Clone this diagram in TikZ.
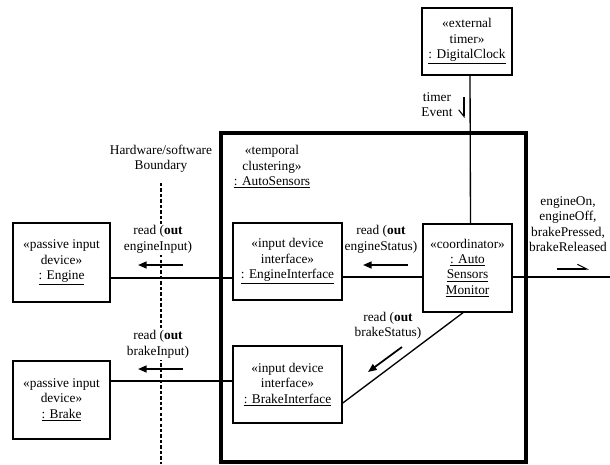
\documentclass[tikz,border=0pt]{standalone}
\usepackage{fontspec}
\setmainfont{Liberation Serif}
\usetikzlibrary{arrows.meta}
\begin{document}
\begin{tikzpicture}[x=0.75pt,y=-0.75pt,
  every node/.style={font=\fontsize{10pt}{11.6pt}\selectfont},
  obj/.style={draw,line width=1.1pt,align=center,inner sep=1pt},
  cluster/.style={draw,line width=2.3pt,inner sep=0pt},
  link/.style={line width=1pt},
  lbl/.style={align=center,inner sep=1pt},
  msg/.style={line width=1.3pt,-{Triangle[length=6.5pt,width=5.2pt]}},
  evt/.style={line width=0.8pt},
  boundary/.style={line width=1pt,dash pattern=on 2.5pt off 1.6pt}]
\useasboundingbox (0,0) rectangle (610,464);

% composite object and its boundary
\node[cluster,minimum width=228.75pt,minimum height=246.75pt] (sensors) at (373.5,297.5) {};
\node[lbl] (sensorslbl) at (272,167) {«temporal\\clustering»\\\underline{: AutoSensors}};

% hardware/software boundary
\coordinate (bndtop) at (161,183);
\coordinate (bndbot) at (161,464);
\draw[boundary] (bndtop) -- (bndbot);
\node[lbl] (bndlbl) at (161,158.5) {Hardware/software\\Boundary};

% objects
\node[obj,minimum width=67.5pt,minimum height=50.25pt] (clock) at (467,41.5)
  {«external\\timer»\\\underline{: DigitalClock}};
\node[obj,minimum width=72.75pt,minimum height=59.25pt] (engine) at (61.5,262.5)
  {«passive input\\device»\\\underline{: Engine}};
\node[obj,minimum width=81.75pt,minimum height=57.75pt] (eif) at (287.5,261.5)
  {«input device\\interface»\\\underline{: EngineInterface}};
\node[obj,minimum width=66.75pt,minimum height=66pt] (coord) at (467.5,268)
  {«coordinator»\\\underline{: Auto}\\\underline{Sensors}\\\underline{Monitor}};
\node[obj,minimum width=72.75pt,minimum height=58.5pt] (brake) at (61.5,400)
  {«passive input\\device»\\\underline{: Brake}};
\node[obj,minimum width=81.75pt,minimum height=57.75pt] (bif) at (287.5,384.5)
  {«input device\\interface»\\\underline{: BrakeInterface}};

% links
\coordinate (out) at (610,277);
\draw[link] ([xshift=2.25pt]clock.south) -- ([xshift=2.25pt]coord.north);
\draw[link] ([yshift=-11.6pt]engine.east) -- ([yshift=-11.6pt]engine.east -| eif.west);
\draw[link] ([yshift=-6.75pt]coord.west) -- ([yshift=-6.75pt]coord.west -| eif.east);
\draw[link] ([yshift=-6.75pt]coord.east) -- (out);
\draw[link] ([yshift=14.25pt]brake.east) -- ([yshift=14.25pt]brake.east -| bif.west);
\draw[link] ([xshift=-3.4pt]coord.south) -- ([yshift=-13.9pt]bif.east);

% messages
\node[lbl] (tlbl) at (437,104.5) {timer\\Event};
\draw[evt,-{Straight Barb[right,length=5pt,width=8pt]}] (464,97) -- (464,118);

\node[lbl] (outlbl) at (568,224) {engineOn,\\engineOff,\\brakePressed,\\brakeReleased};
\draw[evt,-{Straight Barb[left,length=7pt,width=7pt]}] (557,269) -- (589,269);

\node[lbl,fill=white] (eilbl) at (158,239.5) {read (\textbf{out}\\engineInput)};
\draw[msg] (183,265) -- (138,265);

\node[lbl,fill=white] (bilbl) at (158,344.5) {read (\textbf{out}\\brakeInput)};
\draw[msg] (183,369) -- (138,369);

\node[lbl] (eslbl) at (381,239.5) {read (\textbf{out}\\engineStatus)};
\draw[msg] (408,265) -- (363,265);

\node[lbl] (bslbl) at (388,326) {read (\textbf{out}\\brakeStatus)};
\draw[msg] (402,347) -- (368,372);
\end{tikzpicture}
\end{document}
